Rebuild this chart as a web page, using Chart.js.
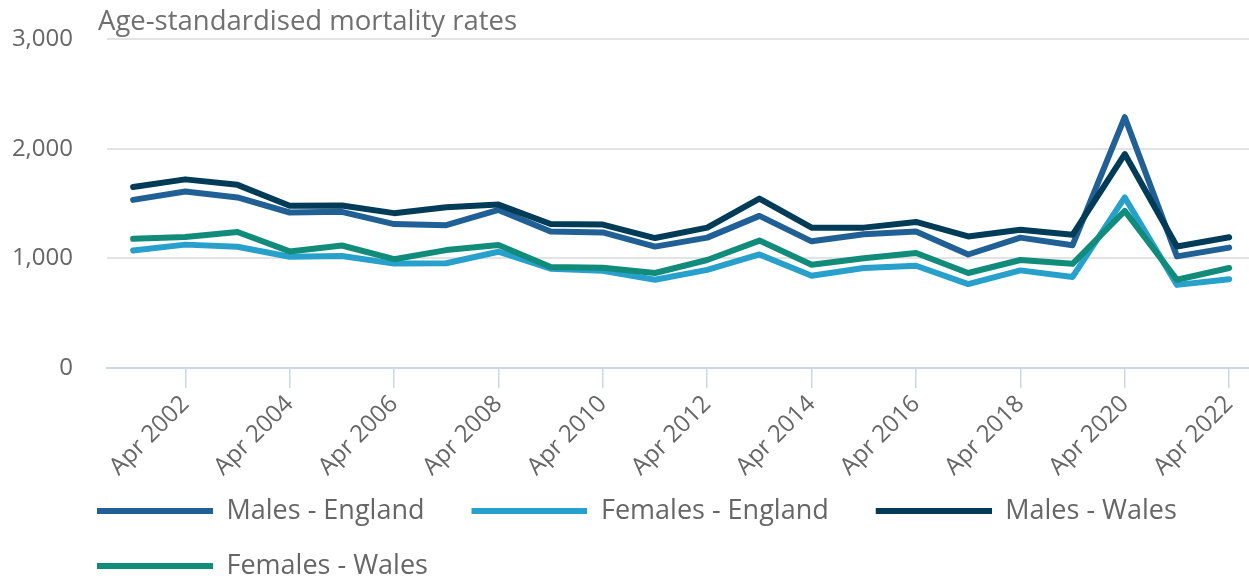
<!DOCTYPE html>
<html>
<head>
<meta charset="utf-8">
<script src="https://cdn.jsdelivr.net/npm/chart.js@4.4.1/dist/chart.umd.min.js"></script>
<style>
  html, body { margin: 0; padding: 0; background: #ffffff; }
  #wrap { width: 1249px; height: 578px; position: relative; }
  canvas { display: block; }
</style>
</head>
<body>
<div id="wrap"><canvas id="c" width="1249" height="578"></canvas></div>
<script>
const categories = ['Apr 2001','Apr 2002','Apr 2003','Apr 2004','Apr 2005','Apr 2006','Apr 2007','Apr 2008','Apr 2009','Apr 2010','Apr 2011','Apr 2012','Apr 2013','Apr 2014','Apr 2015','Apr 2016','Apr 2017','Apr 2018','Apr 2019','Apr 2020','Apr 2021','Apr 2022'];
const malesEngland   = [1533, 1610, 1555, 1418, 1424, 1312, 1302, 1442, 1245, 1236, 1107, 1189, 1387, 1155, 1220, 1244, 1035, 1189, 1120, 2287, 1018, 1098];
const femalesEngland = [1072, 1125, 1105, 1015, 1021, 952, 955, 1060, 906, 886, 805, 895, 1035, 842, 912, 932, 765, 890, 830, 1555, 758, 810];
const malesWales     = [1650, 1720, 1670, 1480, 1482, 1412, 1466, 1490, 1313, 1308, 1185, 1280, 1545, 1280, 1280, 1332, 1200, 1260, 1215, 1951, 1108, 1192];
const femalesWales   = [1178, 1195, 1240, 1063, 1117, 992, 1075, 1122, 920, 915, 866, 985, 1162, 942, 1000, 1048, 866, 985, 950, 1433, 805, 912];
const yTicks = [0, 1000, 2000, 3000];
const xTickLabels = ['Apr 2002','Apr 2004','Apr 2006','Apr 2008','Apr 2010','Apr 2012','Apr 2014','Apr 2016','Apr 2018','Apr 2020','Apr 2022'];
const titleText = 'Age-standardised mortality rates';

Chart.defaults.font.family = "'Open Sans', 'Noto Sans', sans-serif";
Chart.defaults.color = '#666666';

// legend marker: a line of 116px placed at the right of a 135px box
function legendMarker(color) {
  const cv = document.createElement('canvas');
  cv.width = 135; cv.height = 8;
  const g = cv.getContext('2d');
  g.strokeStyle = color; g.lineWidth = 6; g.lineCap = 'butt';
  g.beginPath(); g.moveTo(19, 4); g.lineTo(135, 4); g.stroke();
  return cv;
}

const layoutTweak = {
  id: 'layoutTweak',
  afterLayout(chart) {
    const lg = chart.legend;
    if (lg) {
      const pad = lg.options.labels.padding;
      const h = lg.height;
      lg.left = 97 - 19 - pad;
      lg.top = 511 - pad - 13.5;
      lg.bottom = lg.top + h;
    }
    const tb = chart.titleBlock;
    if (tb) { tb.left = 98; }
  }
};

function ds(label, data, color, order) {
  return {
    label, data, order,
    borderColor: color, backgroundColor: color,
    borderWidth: 6, pointBorderWidth: 6, pointBorderColor: color,
    pointStyle: legendMarker(color),
    pointRadius: 0, pointHoverRadius: 0,
    tension: 0, borderCapStyle: 'round', borderJoinStyle: 'round'
  };
}

new Chart(document.getElementById('c'), {
  type: 'line',
  data: {
    labels: categories,
    datasets: [
      ds('Males - England', malesEngland, '#206095', 4),
      ds('Females - England', femalesEngland, '#27a0cc', 3),
      ds('Males - Wales', malesWales, '#003c57', 2),
      ds('Females - Wales', femalesWales, '#118c7b', 1)
    ]
  },
  options: {
    responsive: false,
    animation: false,
    devicePixelRatio: 1,
    layout: { padding: { left: 10, right: 0, top: 0, bottom: -25 } },
    scales: {
      x: {
        offset: true,
        grid: { drawOnChartArea: false, drawTicks: true, tickLength: 20, color: '#ccd6eb', lineWidth: 1.5 },
        border: { display: true, color: '#ccd6eb', width: 2 },
        ticks: { autoSkip: false, minRotation: 45, maxRotation: 45, padding: 2, color: '#666666', font: { size: 24 } },
        afterBuildTicks: s => {
          s.ticks = xTickLabels.map(l => ({ value: categories.indexOf(l) }));
          s._startValue = -0.5;
          s._valueRange = 21.88;
        },
        afterFit: s => { s.height = 115; s.paddingLeft = 0; s.paddingRight = 0; }
      },
      y: {
        min: 0,
        max: 3000,
        afterBuildTicks: s => { s.ticks = yTicks.map(v => ({ value: v })); },
        ticks: { padding: 34, color: '#666666', font: { size: 24 } },
        grid: { drawTicks: false, lineWidth: 2, color: c => (c.tick && c.tick.value === 0) ? 'rgba(0,0,0,0)' : '#e3e3e3' },
        border: { display: false },
        afterFit: s => { s.width = 97; s.paddingTop = 10; s.paddingBottom = 10; }
      }
    },
    plugins: {
      title: {
        display: true,
        text: titleText,
        align: 'start',
        color: '#707070',
        font: { size: 27.5, weight: 'normal' },
        padding: { top: 6, bottom: 0 }
      },
      legend: {
        display: true,
        position: 'bottom',
        align: 'start',
        labels: {
          usePointStyle: true,
          pointStyleWidth: 135,
          padding: 28,
          color: '#666666',
          font: { size: 27 },
          sort: (a, b) => a.datasetIndex - b.datasetIndex
        }
      },
      tooltip: { enabled: false }
    }
  },
  plugins: [layoutTweak]
});
</script>
</body>
</html>
